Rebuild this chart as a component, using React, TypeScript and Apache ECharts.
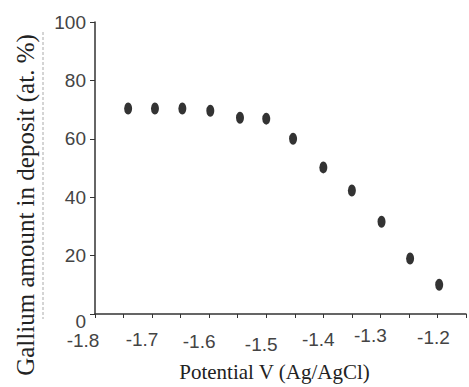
import React, { useEffect, useRef } from "react";
import * as echarts from "echarts";

const potentials = [-1.742, -1.695, -1.647, -1.598, -1.546, -1.5, -1.453, -1.4, -1.35, -1.298, -1.248, -1.197];
const galliumPct = [70.4, 70.4, 70.4, 69.6, 67.2, 66.9, 60.0, 50.2, 42.3, 31.6, 19.0, 10.0];
const xTickLabels = ["-1.8", "-1.7", "-1.6", "-1.5", "-1.4", "-1.3", "-1.2"];
const yTickLabels = ["0", "20", "40", "60", "80", "100"];
const xTitle = "Potential V (Ag/AgCl)";
const yTitle = "Gallium amount in deposit (at. %)";

// per-label nudges [dx, dy] (pixels) reproducing the hand-placed labels
const xLabelNudge: [number, number][] = [
  [-12, 5], [-10, 4], [-10, 6], [-5, 9], [-5, 4], [-10, 0], [-4, 2],
];

export default function App() {
  const ref = useRef<HTMLDivElement>(null);
  useEffect(() => {
    if (!ref.current) return;
    const chart = echarts.init(ref.current, null, { renderer: "svg" });
    const font = "'Liberation Sans', Arial, sans-serif";
    const serif = "'Liberation Serif', 'Times New Roman', serif";
    const xRich: Record<string, any> = {};
    xTickLabels.forEach((_, i) => {
      const [dx, dy] = xLabelNudge[i];
      xRich["x" + i] = {
        fontFamily: font,
        fontSize: 19,
        color: "#444",
        padding: [dy, dx < 0 ? -2 * dx : 0, 0, dx > 0 ? 2 * dx : 0],
      };
    });
    chart.setOption({
      animation: false,
      backgroundColor: "#fff",
      grid: { left: 95, top: 22, width: 377, height: 297 },
      xAxis: {
        type: "value",
        min: -1.8,
        max: -1.15,
        interval: 0.05,
        name: xTitle,
        nameLocation: "middle",
        nameGap: 47,
        nameTextStyle: {
          fontFamily: serif,
          fontSize: 21,
          color: "#222",
          padding: [0, 12, 0, 0],
        },
        axisLine: { lineStyle: { color: "#333", width: 1.5 } },
        axisTick: { inside: false, length: 4, lineStyle: { color: "#333" } },
        splitLine: { show: false },
        axisLabel: {
          margin: 12,
          showMinLabel: true,
          showMaxLabel: true,
          rich: xRich,
          formatter: (v: number) => {
            const k = Math.round(v * 10);
            if (Math.abs(v * 10 - k) > 1e-6) return "";
            const s = (k / 10).toFixed(1);
            const i = xTickLabels.indexOf(s);
            if (i < 0) return "";
            return `{x${i}|${xTickLabels[i]}}`;
          },
        },
      },
      yAxis: {
        type: "value",
        min: 0,
        max: 100,
        interval: 20,
        axisLine: { show: true, lineStyle: { color: "#333", width: 1.5 } },
        axisTick: { show: true, inside: false, length: 5, lineStyle: { color: "#333" } },
        splitLine: { show: false },
        axisLabel: {
          margin: 9,
          fontFamily: font,
          fontSize: 19,
          color: "#444",
          rich: {
            z: { fontFamily: font, fontSize: 19, color: "#444", padding: [14, 0, 0, 0] },
          },
          formatter: (v: number) => {
            const s = yTickLabels[Math.round(v / 20)];
            return v === 0 ? `{z|${s}}` : s;
          },
        },
      },
      graphic: [
        {
          type: "line",
          shape: { x1: 43, y1: 32, x2: 43, y2: 319 },
          style: { stroke: "#aaa", lineWidth: 1, lineDash: [3, 2] },
        },
        {
          type: "text",
          x: 25,
          y: 205,
          rotation: Math.PI / 2,
          style: {
            text: yTitle,
            fontFamily: serif,
            fontSize: 25,
            fill: "#222",
            textAlign: "center",
            textVerticalAlign: "middle",
          },
        },
      ],
      series: [
        {
          type: "scatter",
          data: potentials.map((x, i) => [x, galliumPct[i]]),
          symbol: "circle",
          symbolSize: [8, 12],
          itemStyle: { color: "#000" },
          clip: false,
        },
      ],
    });
    return () => chart.dispose();
  }, []);
  return (
    <div
      ref={ref}
      style={{ position: "fixed", left: 0, top: 0, width: 469, height: 387, background: "#fff" }}
    />
  );
}
